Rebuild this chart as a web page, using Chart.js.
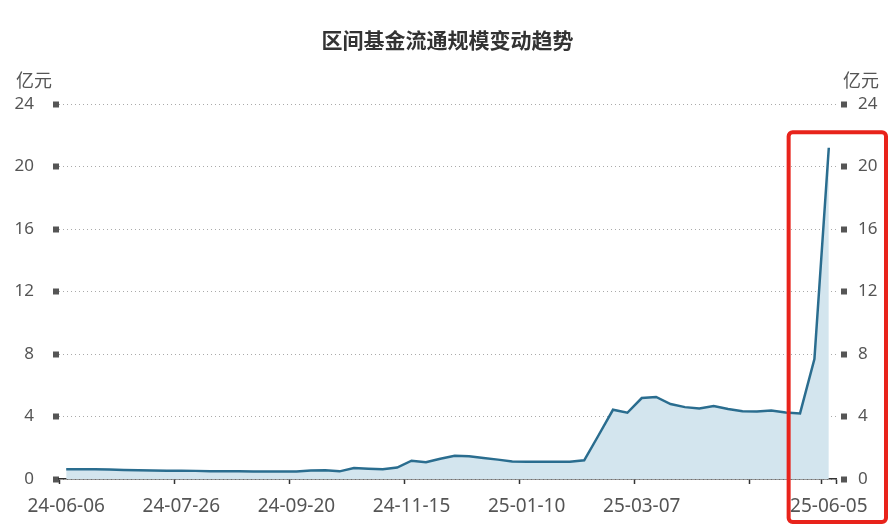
<!DOCTYPE html>
<html>
<head>
<meta charset="utf-8">
<script src="https://cdn.jsdelivr.net/npm/chart.js@4.4.1/dist/chart.umd.min.js"></script>
<style>
  body { margin: 0; background: #fff; }
  #wrap { width: 895px; height: 526px; position: relative; }
</style>
</head>
<body>
<div id="wrap"><canvas id="trend-chart"></canvas></div>
<script>
// data (亿元)
const dates = [
    '24-06-06', '24-06-07', '24-06-14', '24-06-21', '24-06-28', '24-07-05', '24-07-12', '24-07-19',
    '24-07-26', '24-08-02', '24-08-09', '24-08-16', '24-08-23', '24-08-30', '24-09-06', '24-09-13',
    '24-09-20', '24-09-27', '24-10-04', '24-10-11', '24-10-18', '24-10-25', '24-11-01', '24-11-08',
    '24-11-15', '24-11-22', '24-11-29', '24-12-06', '24-12-13', '24-12-20', '24-12-27', '25-01-03',
    '25-01-10', '25-01-17', '25-01-24', '25-01-31', '25-02-07', '25-02-14', '25-02-21', '25-02-28',
    '25-03-07', '25-03-14', '25-03-21', '25-03-28', '25-04-04', '25-04-11', '25-04-18', '25-04-25',
    '25-05-02', '25-05-09', '25-05-16', '25-05-23', '25-05-30', '25-06-05'
];
const scaleValues = [
    0.62, 0.62, 0.62, 0.61, 0.58, 0.56, 0.54, 0.53,
    0.53, 0.52, 0.50, 0.50, 0.49, 0.48, 0.48, 0.48,
    0.48, 0.54, 0.56, 0.49, 0.70, 0.65, 0.62, 0.73,
    1.17, 1.08, 1.30, 1.48, 1.46, 1.35, 1.24, 1.12,
    1.10, 1.10, 1.10, 1.10, 1.20, 2.80, 4.43, 4.24,
    5.18, 5.25, 4.80, 4.60, 4.52, 4.67, 4.48, 4.33,
    4.32, 4.38, 4.26, 4.20, 7.68, 21.2
];
const yTicks = [0, 4, 8, 12, 16, 20, 24];
const labelEvery = 8;
const chartTitle = '区间基金流通规模变动趋势';
const unitText = '亿元';

const lastIdx = dates.length - 1;
const tickSquare = {
    tickColor: '#555',
    tickWidth: 6,
    tickBorderDash: [6, 7],
    tickBorderDashOffset: 6,
    tickLength: 13
};

// title, unit labels and the red highlight box
const decorations = {
    id: 'decorations',
    afterDraw(chart) {
        const c = chart.ctx;
        const x = chart.scales.x;
        const y = chart.scales.y;
        const y2 = chart.scales.y2;
        c.save();
        c.fillStyle = '#333';
        c.font = 'bold 21px "Noto Sans CJK SC"';
        c.textAlign = 'center';
        c.textBaseline = 'middle';
        c.fillText(chartTitle, chart.width / 2, 40);

        c.fillStyle = '#555';
        c.font = '18px "Noto Sans CJK SC"';
        c.textAlign = 'left';
        c.fillText(unitText, y.left + 16, 80);
        c.fillText(unitText, y2.left + 7, 80);

        const left = x.getPixelForValue(50) + 3;
        const top = y.getPixelForValue(22.2);
        const right = chart.width - 9;
        const bottom = chart.height - 4;
        c.strokeStyle = '#e8231b';
        c.lineWidth = 4;
        c.beginPath();
        c.roundRect(left, top, right - left, bottom - top, 4);
        c.stroke();
        c.restore();
    }
};

document.addEventListener('DOMContentLoaded', function() {
    const ctx = document.getElementById('trend-chart');

    new Chart(ctx, {
        type: 'line',
        data: {
            labels: dates,
            datasets: [{
                data: scaleValues,
                borderColor: '#2a6d8f',
                borderWidth: 2.5,
                backgroundColor: '#d3e5ee',
                fill: 'origin',
                pointRadius: 0,
                tension: 0
            }]
        },
        options: {
            responsive: true,
            maintainAspectRatio: false,
            animation: false,
            layout: { padding: { top: 104, left: 0, right: 0, bottom: 0 } },
            plugins: {
                legend: { display: false },
                tooltip: { enabled: false }
            },
            scales: {
                x: {
                    offset: true,
                    afterFit: function(s) { s.height = 47; },
                    border: { display: true, color: '#333', width: 1.5 },
                    grid: {
                        offset: true,
                        drawOnChartArea: false,
                        tickLength: 5,
                        tickWidth: 1.5,
                        tickColor: function(c) {
                            if (c.type === 'scale') return '#333';
                            return (c.index % labelEvery === 0 || c.index === lastIdx) ? '#333' : 'rgba(0,0,0,0)';
                        }
                    },
                    ticks: {
                        autoSkip: false,
                        maxRotation: 0,
                        padding: 11,
                        color: '#555',
                        font: { family: '"Noto Sans"', size: 19 },
                        callback: function(value, index) {
                            if (index === lastIdx) return this.getLabelForValue(value);
                            if (index % labelEvery === 0 && index < lastIdx - 5) return this.getLabelForValue(value);
                            return '';
                        }
                    }
                },
                y: {
                    position: 'left',
                    min: yTicks[0],
                    max: yTicks[yTicks.length - 1],
                    afterFit: function(s) { s.width = 59; },
                    afterBuildTicks: function(s) { s.ticks = yTicks.map(v => ({ value: v })); },
                    border: { display: false, dash: [1, 3] },
                    grid: Object.assign({ lineWidth: 1, color: '#aaa' }, tickSquare),
                    ticks: {
                        padding: 12,
                        color: '#555',
                        font: { family: '"Noto Sans"', size: 17 }
                    }
                },
                y2: {
                    position: 'right',
                    display: true,
                    min: yTicks[0],
                    max: yTicks[yTicks.length - 1],
                    afterFit: function(s) { s.width = 59; },
                    afterBuildTicks: function(s) { s.ticks = yTicks.map(v => ({ value: v })); },
                    border: { display: false },
                    grid: Object.assign({ drawOnChartArea: false }, tickSquare, {
                        tickBorderDash: [6, 5], tickLength: 11
                    }),
                    ticks: {
                        padding: 11,
                        color: '#555',
                        font: { family: '"Noto Sans"', size: 17 }
                    }
                }
            }
        },
        plugins: [decorations]
    });
});
</script>
</body>
</html>
